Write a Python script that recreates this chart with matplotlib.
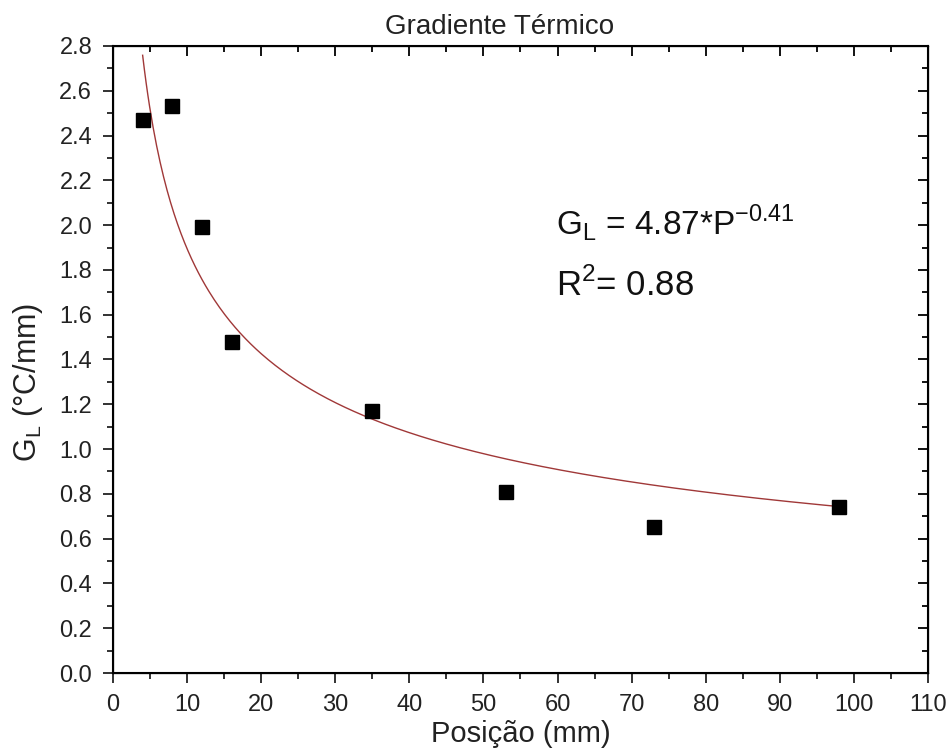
import numpy as np
import matplotlib.pyplot as plt
from matplotlib.ticker import MultipleLocator

# measured points
posicao = [4, 8, 12, 16, 35, 53, 73, 98]
gl = [2.47, 2.53, 1.99, 1.48, 1.17, 0.81, 0.65, 0.74]

# power fit shown on the chart: G_L = a * P^b
fit_a = 4.87
fit_b = -0.41
fit_range = [4, 98]

plt.rcParams['font.family'] = ['Liberation Sans', 'DejaVu Sans']

fig = plt.figure(figsize=(9.53, 7.54), dpi=100)
ax = fig.add_axes([113/953, 1 - 673/754, (928-113)/953, (673-46)/754])

xf = np.linspace(fit_range[0], fit_range[1], 400)
ax.plot(xf, fit_a * xf**fit_b, color='#a03838', lw=1.0)
ax.plot(posicao, gl, 's', color='black', markersize=10)

ax.set_xlim(0, 110)
ax.set_ylim(0, 2.8)
ax.xaxis.set_major_locator(MultipleLocator(10))
ax.xaxis.set_minor_locator(MultipleLocator(5))
ax.yaxis.set_major_locator(MultipleLocator(0.2))
ax.yaxis.set_minor_locator(MultipleLocator(0.1))
ax.yaxis.set_major_formatter(plt.FormatStrFormatter('%.1f'))

for s in ax.spines.values():
    s.set_linewidth(1.5)

ax.tick_params(which='both', direction='out', top=False, right=False,
               labelsize=17, width=1.3, color='#222', labelcolor='#222', pad=8)
ax.tick_params(which='major', length=7)
ax.tick_params(which='minor', length=4)

# inward ticks on top and right
ax2 = ax.twinx()
ax2.set_ylim(ax.get_ylim())
ax2.yaxis.set_major_locator(MultipleLocator(0.2))
ax2.yaxis.set_minor_locator(MultipleLocator(0.1))
ax2.tick_params(which='both', direction='in', labelright=False, width=1.3)
ax2.tick_params(which='major', length=7)
ax2.tick_params(which='minor', length=4)
ax3 = ax.twiny()
ax3.set_xlim(ax.get_xlim())
ax3.xaxis.set_major_locator(MultipleLocator(10))
ax3.xaxis.set_minor_locator(MultipleLocator(5))
ax3.tick_params(which='both', direction='in', labeltop=False, width=1.3)
ax3.tick_params(which='major', length=7)
ax3.tick_params(which='minor', length=4)

ax.set_xlabel('Posição (mm)', fontsize=21, labelpad=3, color='#222')
ax.set_ylabel('G$_\\mathregular{L}$ (°C/mm)', fontsize=22, labelpad=10,
              y=(673-382)/627, color='#222')
fig.text(500/953, 1 - 27/754, 'Gradiente Térmico', ha='center', va='center',
         fontsize=20, color='#222')

ax.text(0.544, 0.699, 'G$_\\mathregular{L}$ = 4.87*P$^\\mathregular{-0.41}$',
        transform=ax.transAxes, fontsize=24, va='baseline', color='#111')
ax.text(0.544, 0.602, 'R$^\\mathregular{2}$= 0.88',
        transform=ax.transAxes, fontsize=25, va='baseline', color='#111')

fig.savefig('out.png', dpi=100)
